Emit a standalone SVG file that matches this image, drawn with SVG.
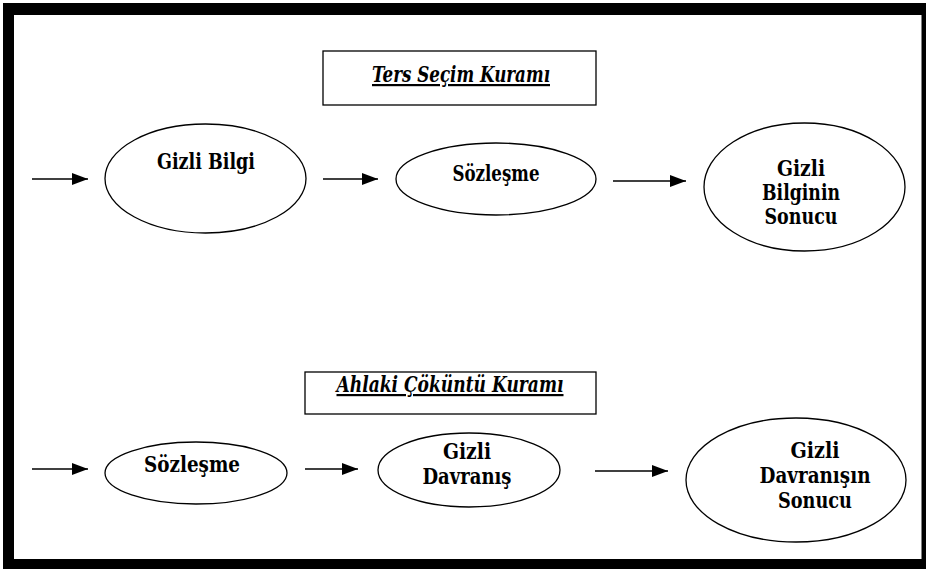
<svg xmlns="http://www.w3.org/2000/svg" width="926" height="569" viewBox="0 0 926 569">
<style>
.node ellipse{fill:#fff;stroke:#000;stroke-width:1.3}
.title rect{fill:#fff;stroke:#000;stroke-width:1.3}
text{font-family:'DejaVu Serif',serif;font-weight:bold;font-size:22px;fill:#000;text-anchor:middle}
.ti{font-style:italic;text-decoration:underline;font-size:22px}
.conn line{stroke:#000;stroke-width:1.6}
</style>
<defs>
<marker id="ah" viewBox="0 0 16 12" refX="16" refY="6" markerWidth="16" markerHeight="12" markerUnits="userSpaceOnUse" orient="auto">
<path d="M0,0 L16,6 L0,12 Z" fill="#000"/>
</marker>
</defs>
<rect x="3" y="3" width="923" height="566" fill="#000"/>
<rect x="14" y="15" width="907.5" height="544" fill="#fff"/>

<g id="title1" class="title">
<rect x="323" y="51" width="273" height="54"/>
<text class="ti" x="461" y="82" textLength="178" lengthAdjust="spacingAndGlyphs">Ters Seçim Kuramı</text>
</g>
<g id="title2" class="title">
<rect x="305" y="372" width="291" height="42"/>
<text class="ti" x="450" y="392" textLength="227" lengthAdjust="spacingAndGlyphs">Ahlaki Çöküntü Kuramı</text>
</g>

<g id="n1" class="node">
<ellipse cx="205.5" cy="178.5" rx="100.5" ry="54.5"/>
<text x="206" y="169" textLength="98" lengthAdjust="spacingAndGlyphs">Gizli Bilgi</text>
</g>
<g id="n2" class="node">
<ellipse cx="496" cy="179" rx="100" ry="36"/>
<text x="496" y="181" textLength="87" lengthAdjust="spacingAndGlyphs">Sözleşme</text>
</g>
<g id="n3" class="node">
<ellipse cx="804.5" cy="187" rx="100.5" ry="64"/>
<text x="801" y="176" textLength="48" lengthAdjust="spacingAndGlyphs">Gizli</text>
<text x="801" y="200" textLength="78" lengthAdjust="spacingAndGlyphs">Bilginin</text>
<text x="801" y="224" textLength="73" lengthAdjust="spacingAndGlyphs">Sonucu</text>
</g>

<g id="n4" class="node">
<ellipse cx="196" cy="473" rx="91" ry="31"/>
<text x="192" y="472" textLength="96" lengthAdjust="spacingAndGlyphs">Sözleşme</text>
</g>
<g id="n5" class="node">
<ellipse cx="469" cy="470" rx="91" ry="37"/>
<text x="467" y="459" textLength="48" lengthAdjust="spacingAndGlyphs">Gizli</text>
<text x="467" y="484" textLength="89" lengthAdjust="spacingAndGlyphs">Davranış</text>
</g>
<g id="n6" class="node">
<ellipse cx="796" cy="480" rx="110" ry="62"/>
<text x="815" y="458" textLength="49" lengthAdjust="spacingAndGlyphs">Gizli</text>
<text x="815" y="483" textLength="111" lengthAdjust="spacingAndGlyphs">Davranışın</text>
<text x="815" y="508" textLength="74" lengthAdjust="spacingAndGlyphs">Sonucu</text>
</g>

<g id="connectors" class="conn">
<line x1="32" y1="179" x2="88" y2="179" marker-end="url(#ah)"/>
<line x1="323" y1="179" x2="378" y2="179" marker-end="url(#ah)"/>
<line x1="613" y1="181" x2="686" y2="181" marker-end="url(#ah)"/>
<line x1="32" y1="469" x2="88" y2="469" marker-end="url(#ah)"/>
<line x1="305" y1="469" x2="358" y2="469" marker-end="url(#ah)"/>
<line x1="595" y1="471" x2="668" y2="471" marker-end="url(#ah)"/>
</g>
</svg>
